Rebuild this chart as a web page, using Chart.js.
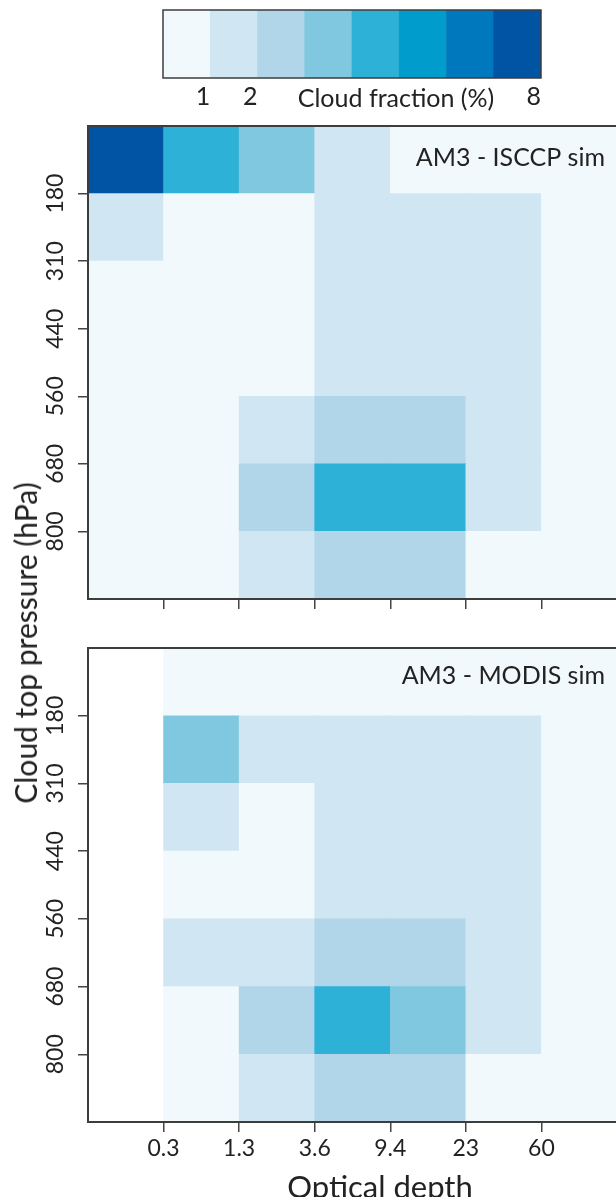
<!DOCTYPE html>
<html>
<head>
<meta charset="utf-8">
<script src="https://cdn.jsdelivr.net/npm/chart.js@4.4.1/dist/chart.umd.min.js"></script>
<style>
  html, body { margin:0; padding:0; background:#fff; overflow:hidden; }
  body { width:616px; height:1197px; position:relative; font-family:Lato, "DejaVu Sans", sans-serif; color:#222; }
  canvas { position:absolute; left:0; }
  .txt { position:absolute; white-space:nowrap; line-height:1; transform:translate(-50%,-50%); }
</style>
</head>
<body>
<canvas id="bar" width="420" height="112" style="left:150px;top:0"></canvas>
<canvas id="isccp" width="640" height="509" style="top:110px"></canvas>
<canvas id="modis" width="640" height="567" style="top:630px"></canvas>
<div class="txt" style="left:396px;top:97px;font-size:25px">Cloud fraction (%)</div>
<div class="txt" style="left:380px;top:1186px;font-size:31px">Optical depth</div>
<div class="txt" style="left:25px;top:643px;font-size:30px;transform:translate(-50%,-50%) rotate(-90deg)">Cloud top pressure (hPa)</div>
<script>
// optical depth bin edges (x) and cloud top pressure bin edges (y)
const depthLabels = ['0.3', '1.3', '3.6', '9.4', '23', '60'];
const pressureLabels = ['180', '310', '440', '560', '680', '800'];

// colour scale: 8 bins of 1 % cloud fraction
const fractionTicks = [1, 2, 8];
const binColors = ['#f2f9fc', '#d0e6f3', '#b1d6ea', '#7fc8df', '#2db1d7', '#009ccb', '#0078bd', '#0054a3'];

// cloud fraction (%) per cell, rows top (low pressure) to bottom, cols thin to thick
const isccpSim = [
  [7.6, 4.3, 3.4, 1.3, 0.8, 0.6, 0.2],
  [1.4, 0.7, 0.6, 1.2, 1.5, 1.1, 0.5],
  [0.5, 0.4, 0.7, 1.1, 1.3, 1.2, 0.4],
  [0.4, 0.3, 0.8, 1.4, 1.6, 1.3, 0.5],
  [0.3, 0.5, 1.6, 2.4, 2.6, 1.7, 0.6],
  [0.2, 0.6, 2.5, 4.6, 4.2, 1.8, 0.7],
  [0.1, 0.5, 1.7, 2.8, 2.3, 0.9, 0.3]
];
const modisSim = [
  [null, 0.4, 0.5, 0.6, 0.8, 0.7, 0.3],
  [null, 3.2, 1.5, 1.4, 1.3, 1.2, 0.6],
  [null, 1.3, 0.8, 1.2, 1.4, 1.1, 0.5],
  [null, 0.6, 0.9, 1.5, 1.7, 1.3, 0.4],
  [null, 1.2, 1.6, 2.3, 2.5, 1.6, 0.6],
  [null, 0.9, 2.4, 4.5, 3.6, 1.9, 0.7],
  [null, 0.4, 1.5, 2.7, 2.2, 0.9, 0.3]
];

Chart.defaults.font.family = 'Lato, "DejaVu Sans", sans-serif';
Chart.defaults.color = '#222';

function binColor(v) {
  return binColors[Math.min(binColors.length - 1, Math.floor(v))];
}

// frame round the plot area + the panel name
const framePlugin = {
  id: 'frame',
  afterDatasetsDraw(chart, args, opts) {
    const {ctx, chartArea: a} = chart;
    ctx.save();
    ctx.strokeStyle = '#3d3d3d';
    ctx.lineWidth = opts.lineWidth || 2;
    ctx.strokeRect(a.left, a.top, a.right - a.left, a.bottom - a.top);
    if (opts.text) {
      ctx.fillStyle = '#222';
      ctx.font = '25px Lato, sans-serif';
      ctx.textAlign = 'right';
      ctx.textBaseline = 'middle';
      ctx.fillText(opts.text, a.right - 12, a.top + opts.dy);
    }
    ctx.restore();
  }
};

function cells(grid) {
  const pts = [], cols = [];
  grid.forEach((row, r) => row.forEach((v, c) => {
    if (v === null) return;
    pts.push({x: c + 0.5, y: [r, r + 1]});
    cols.push(binColor(v));
  }));
  return {pts, cols};
}

function makePanel(id, grid, label, dy, showX, padTop, xHeight) {
  const d = cells(grid);
  return new Chart(document.getElementById(id), {
    type: 'bar',
    data: {
      datasets: [{
        data: d.pts,
        backgroundColor: d.cols,
        borderWidth: 0,
        barPercentage: 1,
        categoryPercentage: 1
      }]
    },
    options: {
      responsive: false,
      animation: false,
      layout: {padding: {top: padTop, right: 23, left: 0, bottom: 0}},
      plugins: {
        legend: {display: false},
        tooltip: {enabled: false},
        frame: {text: label, dy: dy}
      },
      scales: {
        x: {
          type: 'linear', min: 0, max: 7, offset: false,
          afterBuildTicks: s => { s.ticks = depthLabels.map((_, i) => ({value: i + 1})); },
          afterFit: s => { s.height = xHeight; },
          grid: {drawOnChartArea: false, drawTicks: true, tickLength: 10, color: '#444', lineWidth: 1.5, offset: false},
          border: {display: false},
          ticks: {
            autoSkip: false, maxRotation: 0, padding: 3,
            font: {size: 23, lineHeight: 1.2},
            callback: v => showX ? depthLabels[v - 1] : ''
          }
        },
        y: {
          type: 'linear', min: 0, max: 7, reverse: true,
          afterBuildTicks: s => { s.ticks = pressureLabels.map((_, i) => ({value: i + 1})); },
          afterFit: s => { s.width = 88; },
          grid: {drawOnChartArea: false, drawTicks: true, tickLength: 10, color: '#444', lineWidth: 1.5},
          border: {display: false},
          ticks: {
            autoSkip: false, minRotation: 90, maxRotation: 90, crossAlign: 'center', padding: 2,
            font: {size: 23, lineHeight: 1.2},
            callback: v => pressureLabels[v - 1]
          }
        }
      }
    },
    plugins: [framePlugin]
  });
}

// colour bar
new Chart(document.getElementById('bar'), {
  type: 'bar',
  data: {
    datasets: [{
      data: binColors.map((_, i) => ({x: i + 0.5, y: [0, 1]})),
      backgroundColor: binColors,
      borderWidth: 0,
      barPercentage: 1,
      categoryPercentage: 1
    }]
  },
  options: {
    responsive: false,
    animation: false,
    layout: {padding: {top: 10, left: 13, right: 29, bottom: 0}},
    plugins: {legend: {display: false}, tooltip: {enabled: false}, frame: {lineWidth: 1.5}},
    scales: {
      x: {
        type: 'linear', min: 0, max: binColors.length, offset: false,
        afterBuildTicks: s => { s.ticks = fractionTicks.map(v => ({value: v})); },
        afterFit: s => { s.height = 34; },
        grid: {display: false, drawTicks: false},
        border: {display: false},
        ticks: {align: 'end', padding: 4, maxRotation: 0, autoSkip: false, font: {size: 25, lineHeight: 1.2}}
      },
      y: {display: false, min: 0, max: 1}
    }
  },
  plugins: [framePlugin]
});

makePanel('isccp', isccpSim, 'AM3 - ISCCP sim', 32, false, 16, 20);
makePanel('modis', modisSim, 'AM3 - MODIS sim', 28, true, 18, 75);
</script>
</body>
</html>
